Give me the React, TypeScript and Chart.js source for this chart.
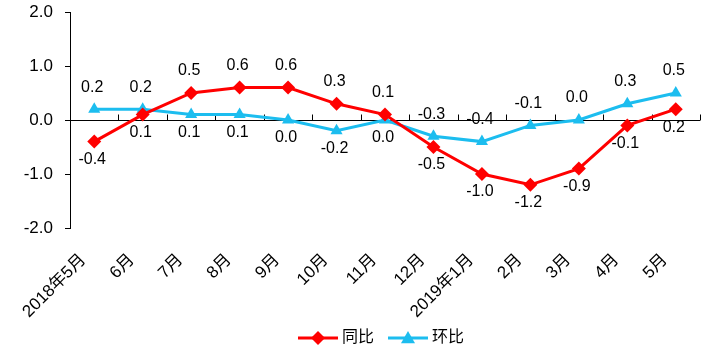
import React, { useEffect, useRef } from "react";
import { Chart, registerables } from "chart.js";

Chart.register(...registerables);

const categories = ["2018年5月", "6月", "7月", "8月", "9月", "10月", "11月", "12月", "2019年1月", "2月", "3月", "4月", "5月"];
const yoyValues = [-0.4, 0.1, 0.5, 0.6, 0.6, 0.3, 0.1, -0.5, -1.0, -1.2, -0.9, -0.1, 0.2];
const momValues = [0.2, 0.2, 0.1, 0.1, 0.0, -0.2, 0.0, -0.3, -0.4, -0.1, 0.0, 0.3, 0.5];
const seriesNames = ["同比", "环比"];
const yTicks = [-2, -1, 0, 1, 2];

const RED = "#FF0000";
const CYAN = "#1CBDEF";
const FONT = "'Liberation Sans', Arial, 'Noto Sans CJK SC', sans-serif";
const FS = 16;
const AXIS_FS = 17;

function drawMarker(ctx: CanvasRenderingContext2D, style: string, x: number, y: number, r: number) {
  ctx.beginPath();
  if (style === "rectRot") {
    ctx.moveTo(x, y - r);
    ctx.lineTo(x + r, y);
    ctx.lineTo(x, y + r);
    ctx.lineTo(x - r, y);
  } else {
    ctx.moveTo(x, y - r);
    ctx.lineTo(x + r, y + r * 0.75);
    ctx.lineTo(x - r, y + r * 0.75);
  }
  ctx.closePath();
  ctx.fill();
}

const zeroAxisPlugin = {
  id: "zeroAxis",
  beforeDatasetsDraw(chart: any) {
    const { ctx, chartArea, scales } = chart;
    const x = scales.x;
    const y = scales.y;
    const y0 = Math.round(y.getPixelForValue(0)) + 0.5;
    ctx.save();
    ctx.strokeStyle = "#000";
    ctx.lineWidth = 1;
    ctx.beginPath();
    ctx.moveTo(chartArea.left, y0);
    ctx.lineTo(chartArea.right, y0);
    const step = x.getPixelForValue(1) - x.getPixelForValue(0);
    for (let i = 0; i < categories.length; i++) {
      const bx = Math.round(x.getPixelForValue(i) + step / 2) + 0.5;
      ctx.moveTo(bx, y0);
      ctx.lineTo(bx, y0 - 6);
    }
    ctx.stroke();
    ctx.restore();
  },
};

const dataLabelPlugin = {
  id: "dataLabels",
  afterDatasetsDraw(chart: any) {
    const { ctx } = chart;
    ctx.save();
    ctx.font = `${FS}px ${FONT}`;
    ctx.fillStyle = "#000";
    ctx.textAlign = "center";
    ctx.textBaseline = "middle";
    chart.data.datasets.forEach((ds: any, di: number) => {
      const other = chart.data.datasets[1 - di];
      const meta = chart.getDatasetMeta(di);
      meta.data.forEach((pt: any, i: number) => {
        const v = ds.data[i];
        const above = v >= other.data[i];
        const ty = above ? pt.y - 22 : pt.y + 18;
        ctx.fillText(v.toFixed(1), pt.x - 2, ty);
      });
    });
    ctx.restore();
  },
};

const legendPlugin = {
  id: "customLegend",
  afterDraw(chart: any) {
    const { ctx, chartArea } = chart;
    const dss = chart.data.datasets;
    ctx.save();
    ctx.font = `${FS}px ${FONT}`;
    ctx.textBaseline = "middle";
    ctx.textAlign = "left";
    const lineLen = 40;
    const gap = 4;
    const spacing = 14;
    const widths = dss.map((ds: any) => lineLen + gap + ctx.measureText(ds.label).width);
    const total = widths.reduce((a: number, b: number) => a + b, 0) + spacing * (dss.length - 1);
    let x = (chartArea.left + chartArea.right) / 2 - 4 - total / 2;
    const y = 338;
    dss.forEach((ds: any, i: number) => {
      ctx.strokeStyle = ds.borderColor;
      ctx.fillStyle = ds.borderColor;
      ctx.lineWidth = 3;
      ctx.beginPath();
      ctx.moveTo(x, y);
      ctx.lineTo(x + lineLen, y);
      ctx.stroke();
      drawMarker(ctx, ds.pointStyle, x + lineLen / 2, y, 7);
      ctx.fillStyle = "#000";
      ctx.fillText(ds.label, x + lineLen + gap, y);
      x += widths[i] + spacing;
    });
    ctx.restore();
  },
};

export default function App() {
  const ref = useRef<HTMLCanvasElement>(null);
  useEffect(() => {
    const chart = new Chart(ref.current!, {
      type: "line",
      data: {
        labels: categories,
        datasets: [
          {
            label: seriesNames[0],
            data: yoyValues,
            borderColor: RED,
            backgroundColor: RED,
            borderWidth: 3,
            pointStyle: "rectRot",
            pointRadius: 7,
            pointBorderWidth: 0,
            tension: 0,
          },
          {
            label: seriesNames[1],
            data: momValues,
            borderColor: CYAN,
            backgroundColor: CYAN,
            borderWidth: 3,
            pointStyle: "triangle",
            pointRadius: 7,
            pointBorderWidth: 0,
            tension: 0,
          },
        ],
      },
      options: {
        responsive: false,
        animation: false,
        layout: { autoPadding: false, padding: { left: 0, right: 5, top: 12, bottom: 0 } },
        plugins: {
          tooltip: { enabled: false },
          legend: { display: false },
        },
        scales: {
          x: {
            type: "category",
            offset: true,
            grid: { display: false },
            border: { display: false },
            ticks: {
              autoSkip: false,
              minRotation: 45,
              maxRotation: 45,
              padding: 14,
              labelOffset: -11,
              color: "#000",
              font: { family: FONT, size: AXIS_FS },
            },
            afterFit: (s: any) => {
              s.height = 124;
              s.paddingLeft = 0;
              s.paddingRight = 0;
            },
          },
          y: {
            min: -2,
            max: 2,
            afterBuildTicks: (s: any) => {
              s.ticks = yTicks.map((v) => ({ value: v }));
            },
            grid: { display: true, drawOnChartArea: false, drawTicks: true, tickLength: 5, color: "#000" },
            border: { display: true, color: "#000", width: 1 },
            ticks: {
              padding: 12,
              color: "#000",
              font: { family: FONT, size: AXIS_FS },
              callback: (v: any) => Number(v).toFixed(1),
            },
            afterFit: (s: any) => {
              s.width = 70;
              s.paddingTop = 0;
              s.paddingBottom = 0;
            },
          },
        },
      },
      plugins: [zeroAxisPlugin, dataLabelPlugin, legendPlugin],
    });
    return () => chart.destroy();
  }, []);
  return (
    <div style={{ position: "fixed", left: 0, top: 0, width: 705, height: 352, background: "#fff" }}>
      <canvas ref={ref} width={705} height={352} />
    </div>
  );
}
